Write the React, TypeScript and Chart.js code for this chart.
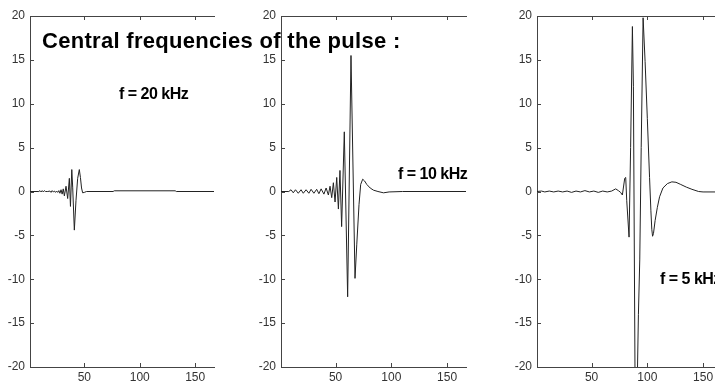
import React, { useEffect, useRef } from "react";
import { Chart, registerables } from "chart.js";

Chart.register(...registerables);

// ---------- data ----------
const X_MIN = 1;
const X_MAX = 167;
const Y_MIN = -20;
const Y_MAX = 20;
const xTicks = [50, 100, 150];
const yTicks = [-20, -15, -10, -5, 0, 5, 10, 15, 20];

const titleText = "Central frequencies of the pulse :";
const panelLabels = ["f = 20 kHz", "f = 10 kHz", "f = 5 kHz"];

// f = 20 kHz
const p20X = [1, 9, 10, 11, 12, 13, 14, 15, 17, 19, 20, 21, 22, 23, 24, 25, 26, 27, 28, 29, 30, 31, 32, 33.5, 35, 36.5, 37.5, 38.7, 39.5, 41, 42.5, 44, 45.5, 46.5, 47.5, 48.5, 50, 52, 76, 77, 132, 133, 167];
const p20Y = [0, 0, 0.1, -0.05, 0.1, -0.05, 0.1, 0, 0, 0.05, -0.1, 0.1, -0.05, 0.05, -0.1, 0.05, -0.1, 0.1, -0.2, 0.2, -0.3, 0.3, -0.5, 0.6, -0.8, 1.5, -1.7, 2.5, 0.5, -4.4, -1.0, 1.5, 2.5, 1.6, 0.4, -0.15, -0.1, 0, 0, 0.08, 0.08, 0, 0];

// f = 10 kHz
const p10X = [1, 8, 10, 12, 14, 16.5, 19, 21, 23.5, 26, 28, 30.5, 33, 35, 37, 39.5, 41.5, 43.5, 45, 46.5, 48, 49.5, 51, 52.5, 53.9, 55.4, 57.8, 60.8, 63.8, 67.4, 69, 71, 72.5, 74.3, 76, 78, 81, 84, 88, 93, 98, 110, 167];
const p10Y = [0, 0, 0.2, -0.15, 0.2, -0.2, 0.2, -0.2, 0.2, -0.2, 0.25, -0.2, 0.25, -0.25, 0.3, -0.3, 0.4, -0.4, 0.6, -0.7, 1.0, -1.2, 1.6, -2.0, 2.4, -4.0, 6.8, -12.0, 15.5, -9.9, -6.0, -1.5, 0.8, 1.4, 1.2, 0.8, 0.4, 0.15, 0, -0.15, -0.05, 0, 0];

// f = 5 kHz
const p5X = [1, 5, 8, 12, 16, 20, 24, 28, 32, 36, 40, 44, 48, 52, 56, 60, 64, 68, 71.6, 74, 76, 77.6, 79.7, 80.6, 81.5, 83.6, 85, 86.6, 87.5, 89, 90.5, 91.2, 92, 93.2, 94.5, 96.2, 97, 98, 100, 102, 103.2, 104, 104.7, 105.5, 107, 109, 111, 114, 118, 122, 125.7, 130, 135, 140, 146, 150, 167];
const p5Y = [0, 0.05, -0.05, 0.05, -0.05, 0.05, -0.05, 0.05, -0.1, 0.05, -0.05, 0.1, -0.05, 0.05, -0.1, 0.05, -0.05, 0.05, 0.3, 0.1, -0.1, -0.4, 1.5, 1.6, -1.0, -5.2, 5.0, 18.8, 12.0, -22.0, -24.0, -20.0, -14.0, -7.8, 5.0, 19.8, 19.8, 14.8, 8.3, 1.6, -2.2, -4.3, -5.1, -4.8, -3.3, -1.8, -0.6, 0.4, 0.9, 1.1, 1.05, 0.8, 0.5, 0.25, 0, -0.05, -0.05];

// ---------- layout ----------
const AXIS_COLOR = "#444";
const LINE_COLOR = "#222";
const TICK_FONT = { family: "'Liberation Sans', Arial, sans-serif", size: 12 };

type PanelProps = { xs: number[]; ys: number[]; left: number; plotW: number };

const tickMarks = {
  id: "inwardTicks",
  afterDraw(chart: any) {
    const { ctx, chartArea, scales } = chart;
    const xs = scales.x;
    const ys = scales.y;
    ctx.save();
    ctx.strokeStyle = AXIS_COLOR;
    ctx.lineWidth = 1;
    ctx.beginPath();
    for (const v of xTicks) {
      const px = Math.round(xs.getPixelForValue(v)) + 0.5;
      ctx.moveTo(px, chartArea.bottom);
      ctx.lineTo(px, chartArea.bottom - 4);
      ctx.moveTo(px, chartArea.top);
      ctx.lineTo(px, chartArea.top + 4);
    }
    for (const v of yTicks) {
      const py = Math.round(ys.getPixelForValue(v)) + 0.5;
      ctx.moveTo(chartArea.left, py);
      ctx.lineTo(chartArea.left + 4, py);
    }
    ctx.stroke();
    ctx.restore();
  },
};

function Panel({ xs, ys, left, plotW }: PanelProps) {
  const ref = useRef<HTMLCanvasElement>(null);
  const width = 30 + plotW + 2;
  useEffect(() => {
    if (!ref.current) return;
    const points = xs.map((x, i) => ({ x, y: ys[i] }));
    const chart = new Chart(ref.current, {
      type: "line",
      data: {
        datasets: [
          {
            data: points,
            borderColor: LINE_COLOR,
            borderWidth: 1,
            pointRadius: 0,
            tension: 0,
            fill: false,
          },
        ],
      },
      options: {
        animation: false,
        responsive: false,
        devicePixelRatio: 1,
        layout: { padding: { top: 0, bottom: 0, left: 0, right: 2 } },
        plugins: { legend: { display: false }, tooltip: { enabled: false } },
        scales: {
          x: {
            type: "linear",
            position: "bottom",
            min: X_MIN,
            max: X_MAX,
            afterBuildTicks: (s: any) => {
              s.ticks = xTicks.map((v) => ({ value: v }));
            },
            afterFit: (s: any) => {
              s.height = 16;
            },
            grid: { display: false, drawTicks: false },
            border: { display: true, color: AXIS_COLOR, width: 1 },
            ticks: { color: "#333", font: TICK_FONT, padding: 3, maxRotation: 0 },
          },
          xTop: {
            type: "linear",
            position: "top",
            min: X_MIN,
            max: X_MAX,
            afterBuildTicks: (s: any) => {
              s.ticks = xTicks.map((v) => ({ value: v }));
            },
            afterFit: (s: any) => {
              s.height = 16;
            },
            grid: { display: false, drawTicks: false },
            border: { display: true, color: AXIS_COLOR, width: 1 },
            ticks: { display: false },
          },
          y: {
            type: "linear",
            position: "left",
            min: Y_MIN,
            max: Y_MAX,
            afterBuildTicks: (s: any) => {
              s.ticks = yTicks.map((v) => ({ value: v }));
            },
            afterFit: (s: any) => {
              s.width = 30;
            },
            grid: { display: false, drawTicks: false },
            border: { display: true, color: AXIS_COLOR, width: 1 },
            ticks: { color: "#333", font: TICK_FONT, padding: 5 },
          },
        },
      },
      plugins: [tickMarks],
    } as any);
    return () => chart.destroy();
  }, []);
  return (
    <canvas
      ref={ref}
      width={width}
      height={383}
      style={{ position: "absolute", left, top: 0, width, height: 383, display: "block" }}
    />
  );
}

const labelStyle: React.CSSProperties = {
  position: "absolute",
  fontFamily: "'Liberation Sans', Arial, sans-serif",
  fontWeight: "bold",
  fontSize: 16,
  lineHeight: "16px",
  letterSpacing: "-0.5px",
  whiteSpace: "nowrap",
  color: "#000",
  zIndex: 2,
};

export default function App() {
  return (
    <div
      style={{
        position: "absolute",
        left: 0,
        top: 0,
        width: 715,
        height: 383,
        overflow: "hidden",
        background: "#fff",
      }}
    >
      <Panel xs={p20X} ys={p20Y} left={0} plotW={184} />
      <Panel xs={p10X} ys={p10Y} left={251} plotW={185} />
      <Panel xs={p5X} ys={p5Y} left={507} plotW={185} />
      <div
        style={{
          position: "absolute",
          left: 42,
          top: 30,
          fontFamily: "'Liberation Sans', Arial, sans-serif",
          fontWeight: "bold",
          fontSize: 22,
          lineHeight: "22px",
          letterSpacing: "0.3px",
          whiteSpace: "nowrap",
          color: "#000",
          zIndex: 3,
        }}
      >
        {titleText}
      </div>
      <div style={{ ...labelStyle, left: 119, top: 86 }}>{panelLabels[0]}</div>
      <div style={{ ...labelStyle, left: 398, top: 166 }}>{panelLabels[1]}</div>
      <div style={{ ...labelStyle, left: 660, top: 271 }}>{panelLabels[2]}</div>
    </div>
  );
}
